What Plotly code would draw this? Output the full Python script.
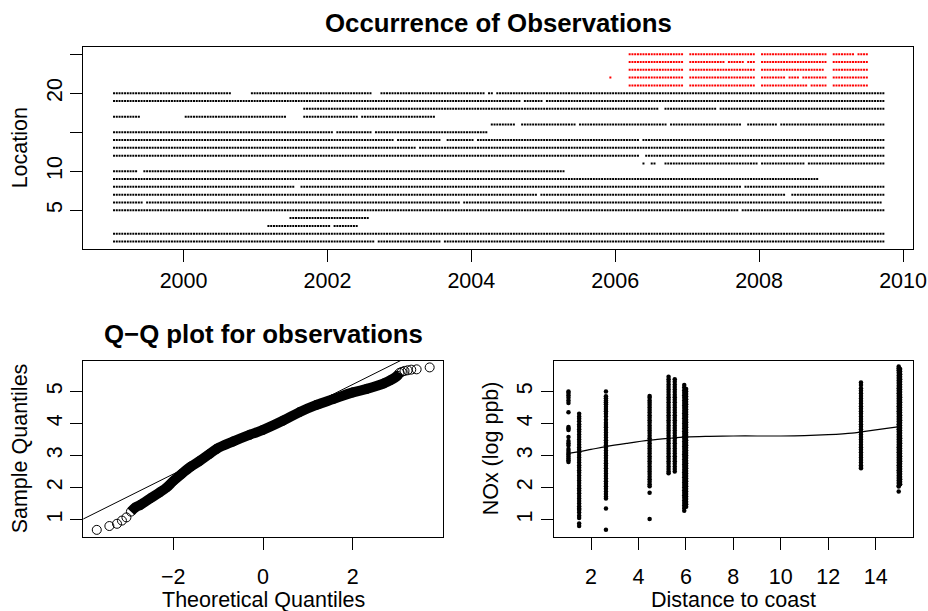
import pandas as pd
import plotly.graph_objects as go

FONT = "Liberation Sans"
W, H = 928, 611

# ---------------------------------------------------------------- data
# biweekly sampling schedule
sample_dates = pd.date_range("1999-01-13", periods=280, freq="14D")

# observed runs of the schedule (first index, last index) for each location
aqs_runs = {
    1: [(0, 94), (96, 118), (120, 279)],
    2: [(0, 279)],
    3: [(56, 78), (80, 88)],
    4: [(64, 92)],
    5: [(0, 226), (228, 279)],
    6: [(0, 10), (12, 125), (127, 278)],
    7: [(0, 153), (155, 243), (246, 279)],
    8: [(0, 65), (68, 227), (229, 279)],
    9: [(0, 255)],
    10: [(0, 8), (11, 163)],
    11: [(192, 192), (195, 196), (200, 233), (235, 250), (252, 279)],
    12: [(0, 190), (193, 279)],
    13: [(0, 109), (111, 279)],
    14: [(0, 101), (103, 118), (121, 130), (132, 190), (192, 279)],
    15: [(0, 79), (81, 93), (95, 135)],
    16: [(137, 145), (148, 167), (169, 200), (202, 227), (230, 240), (242, 279)],
    17: [(0, 9), (26, 62), (69, 88), (90, 116)],
    18: [(69, 197), (200, 218), (220, 279)],
    19: [(0, 147), (149, 155), (157, 279)],
    20: [(0, 42), (50, 93), (97, 134), (136, 137), (139, 279)],
}
fixed_runs = {
    21: [(187, 206), (209, 232), (235, 251), (253, 258), (261, 273)],
    22: [(180, 180), (187, 206), (209, 232), (235, 243), (245, 248), (250, 258), (261, 273)],
    23: [(187, 206), (209, 232), (235, 257), (261, 273)],
    24: [(187, 206), (209, 221), (223, 228), (230, 232), (235, 258), (261, 273)],
    25: [(187, 206), (209, 232), (235, 258), (261, 268), (270, 273)],
}
year_ticks = ["2000", "2002", "2004", "2006", "2008", "2010"]
location_ticks = [5, 10, 15, 20, 25]
location_labels = ["5", "10", "", "20", ""]

# Q-Q plot: theoretical vs sample quantiles of log NOx
qq_low_x = [-3.70, -3.42, -3.25, -3.14, -3.04, -2.94]
qq_low_y = [0.68, 0.80, 0.87, 0.97, 1.07, 1.25]
qq_mid_x = [-2.84, -2.73, -2.50, -2.30, -2.14, -2.00, -1.81, -1.60, -1.40, -1.20,
            -1.03, -0.66, -0.29, 0.00, 0.45, 0.82, 1.19, 1.56, 2.00, 2.31,
            2.69, 2.85, 2.99]
qq_mid_y = [1.38, 1.46, 1.67, 1.85, 2.01, 2.20, 2.43, 2.66, 2.84, 3.04,
            3.21, 3.44, 3.65, 3.80, 4.09, 4.36, 4.58, 4.76, 4.97, 5.08,
            5.25, 5.36, 5.49]
qq_high_x = [3.04, 3.09, 3.15, 3.22, 3.30, 3.42, 3.71]
qq_high_y = [5.58, 5.61, 5.64, 5.66, 5.68, 5.69, 5.75]
qq_line_intercept = 3.82
qq_line_slope = 0.70

# log NOx against distance to coast, one column per monitoring site
site_dist = [1.05, 1.50, 2.63, 4.47, 5.27, 5.53, 5.93, 6.01, 13.38, 14.97, 15.03]
site_nox = [
    [5.00, 4.95, 4.88, 4.80, 4.72, 4.64, 4.35, 3.89, 3.84, 3.80, 3.58, 3.45, 3.38,
     3.31, 3.20, 3.14, 3.08, 3.03, 2.97, 2.91, 2.85, 2.80],
    [4.30, 4.22, 4.15, 4.07, 3.98, 3.90, 3.82, 3.74, 3.66, 3.58, 3.50, 3.42, 3.34,
     3.26, 3.18, 3.10, 3.02, 2.94, 2.86, 2.78, 2.70, 2.62, 2.54, 2.46, 2.38, 2.30,
     2.22, 2.14, 2.06, 1.98, 1.90, 1.82, 1.74, 1.66, 1.58, 1.50, 1.42, 1.35, 1.30,
     1.22, 1.12, 1.05, 0.88, 0.80],
    [5.00, 4.85, 4.79, 4.72, 4.66, 4.60, 4.52, 4.45, 4.38, 4.30, 4.22, 4.12, 4.02,
     3.95, 3.88, 3.80, 3.72, 3.64, 3.56, 3.48, 3.40, 3.32, 3.24, 3.16, 3.08, 3.00,
     2.92, 2.84, 2.76, 2.68, 2.60, 2.52, 2.44, 2.36, 2.28, 2.20, 2.12, 2.04, 1.96,
     1.88, 1.80, 1.72, 1.66, 1.35, 0.68],
    [4.86, 4.80, 4.72, 4.65, 4.58, 4.50, 4.42, 4.34, 4.26, 4.18, 4.10, 4.02, 3.94,
     3.86, 3.78, 3.70, 3.62, 3.54, 3.46, 3.38, 3.30, 3.22, 3.14, 3.06, 2.98, 2.90,
     2.82, 2.74, 2.66, 2.58, 2.50, 2.42, 2.34, 2.26, 2.18, 2.10, 2.04, 1.84, 1.02],
    [5.46, 5.38, 5.30, 5.22, 5.14, 5.06, 4.98, 4.90, 4.82, 4.74, 4.66, 4.58, 4.50,
     4.42, 4.34, 4.26, 4.18, 4.10, 4.02, 3.94, 3.86, 3.78, 3.70, 3.62, 3.54, 3.46,
     3.38, 3.30, 3.22, 3.14, 3.06, 2.98, 2.90, 2.82, 2.74, 2.66, 2.58, 2.50, 2.45],
    [5.38, 5.30, 5.22, 5.14, 5.06, 4.98, 4.90, 4.82, 4.74, 4.66, 4.58, 4.50, 4.42,
     4.34, 4.26, 4.18, 4.10, 4.02, 3.94, 3.86, 3.78, 3.70, 3.62, 3.54, 3.46, 3.38,
     3.30, 3.22, 3.14, 3.06, 2.98, 2.90, 2.82, 2.74, 2.66, 2.58, 2.50],
    [5.20, 5.12, 5.04, 4.96, 4.88, 4.80, 4.72, 4.64, 4.56, 4.48, 4.40, 4.32, 4.24,
     4.16, 4.08, 4.00, 3.92, 3.84, 3.76, 3.68, 3.60, 3.52, 3.44, 3.36, 3.28, 3.20,
     3.12, 3.04, 2.96, 2.88, 2.80, 2.72, 2.64, 2.56, 2.48, 2.40, 2.32, 2.24, 2.16,
     2.08, 2.00, 1.92, 1.84, 1.76, 1.68, 1.60, 1.52, 1.44, 1.36, 1.28],
    [5.08, 5.00, 4.92, 4.84, 4.76, 4.68, 4.60, 4.52, 4.44, 4.36, 4.28, 4.20, 4.12,
     4.04, 3.96, 3.88, 3.80, 3.72, 3.64, 3.56, 3.48, 3.40, 3.32, 3.24, 3.16, 3.08,
     3.00, 2.92, 2.84, 2.76, 2.68, 2.60, 2.52, 2.44, 2.36, 2.28, 2.20, 2.12, 2.04,
     1.96, 1.88, 1.80, 1.72, 1.64, 1.56, 1.48, 1.40],
    [5.28, 5.20, 5.10, 5.02, 4.94, 4.86, 4.78, 4.70, 4.62, 4.54, 4.46, 4.38, 4.30,
     4.22, 4.14, 4.06, 3.98, 3.90, 3.82, 3.74, 3.66, 3.58, 3.50, 3.42, 3.34, 3.26,
     3.18, 3.10, 3.02, 2.94, 2.86, 2.78, 2.70, 2.64, 2.60],
    [5.78, 5.72, 5.66, 5.58, 5.50, 5.42, 5.34, 5.26, 5.18, 5.10, 5.02, 4.94, 4.86,
     4.78, 4.70, 4.62, 4.54, 4.46, 4.38, 4.30, 4.22, 4.14, 4.06, 3.98, 3.90, 3.82,
     3.74, 3.66, 3.58, 3.50, 3.42, 3.34, 3.26, 3.18, 3.10, 3.02, 2.94, 2.86, 2.78,
     2.70, 2.62, 2.54, 2.46, 2.38, 2.30, 2.22, 2.14, 2.06, 2.03, 1.88],
    [5.70, 5.62, 5.54, 5.46, 5.38, 5.30, 5.22, 5.14, 5.06, 4.98, 4.90, 4.82, 4.74,
     4.66, 4.58, 4.50, 4.42, 4.34, 4.26, 4.18, 4.10, 4.02, 3.94, 3.86, 3.78, 3.70,
     3.62, 3.54, 3.46, 3.38, 3.30, 3.22, 3.14, 3.06, 2.98, 2.90, 2.82, 2.74, 2.66,
     2.58, 2.50, 2.42, 2.34, 2.26, 2.18, 2.10],
]
trend_x = [1.05, 1.5, 2.0, 2.63, 3.5, 4.47, 5.3, 6.0, 7.0, 8.0, 9.0, 10.0, 11.0, 12.0, 13.0, 13.4, 14.0, 15.0]
trend_y = [3.07, 3.12, 3.19, 3.28, 3.38, 3.48, 3.54, 3.58, 3.60, 3.61, 3.61, 3.61, 3.62, 3.65, 3.70, 3.74, 3.80, 3.90]


# ---------------------------------------------------------------- helpers
def expand(runs):
    xs, ys = [], []
    for loc, spans in runs.items():
        for a, b in spans:
            for i in range(a, b + 1):
                xs.append(sample_dates[i])
                ys.append(loc)
    return xs, ys


def px_x(p):
    return p / W


def px_y(p):
    return 1 - p / H


def axis(**kw):
    base = dict(showline=True, mirror=True, linecolor="black", linewidth=1,
                ticks="outside", ticklen=12, tickwidth=1, tickcolor="black",
                showgrid=False, zeroline=False, automargin=False,
                tickfont=dict(family=FONT, size=21.5, color="black"))
    base.update(kw)
    return base


fig = go.Figure()

# occurrence of observations
ax_, ay_ = expand(aqs_runs)
fx_, fy_ = expand(fixed_runs)
fig.add_trace(go.Scatter(x=ax_, y=ay_, mode="markers", xaxis="x", yaxis="y",
                         marker=dict(symbol="square", size=2, color="black", line=dict(width=0))))
fig.add_trace(go.Scatter(x=fx_, y=fy_, mode="markers", xaxis="x", yaxis="y",
                         marker=dict(symbol="square", size=2, color="red", line=dict(width=0))))

# Q-Q plot
qq_x = qq_low_x + qq_mid_x + qq_high_x
qq_y = qq_low_y + qq_mid_y + qq_high_y
fig.add_trace(go.Scatter(x=[qq_low_x[-1]] + qq_mid_x + [qq_high_x[0]],
                         y=[qq_low_y[-1]] + qq_mid_y + [qq_high_y[0]],
                         mode="lines", xaxis="x2", yaxis="y2",
                         line=dict(color="black", width=10, shape="spline")))
fig.add_trace(go.Scatter(x=qq_x, y=qq_y, mode="markers", xaxis="x2", yaxis="y2",
                         marker=dict(symbol="circle-open", size=9, color="black",
                                     line=dict(width=1, color="black"))))
line_x = [-4.5, 4.5]
fig.add_trace(go.Scatter(x=line_x, y=[qq_line_intercept + qq_line_slope * v for v in line_x],
                         mode="lines", xaxis="x2", yaxis="y2",
                         line=dict(color="black", width=1)))

# NOx vs distance to coast
for d, vals in zip(site_dist, site_nox):
    fig.add_trace(go.Scatter(x=[d] * len(vals), y=vals, mode="markers", xaxis="x3", yaxis="y3",
                             marker=dict(size=4.5, color="black", line=dict(width=0))))
fig.add_trace(go.Scatter(x=trend_x, y=trend_y, mode="lines", xaxis="x3", yaxis="y3",
                         line=dict(color="black", width=1.2, shape="spline")))

top_l, top_r, top_t, top_b = 83.3, 912.7, 46.7, 249.0
bot_t, bot_b = 361.0, 536.7
ql_l, ql_r = 83.3, 442.7
qr_l, qr_r = 554.0, 912.7

fig.update_layout(
    width=W, height=H, autosize=False, margin=dict(l=0, r=0, t=0, b=0, pad=0),
    paper_bgcolor="white", plot_bgcolor="white", showlegend=False,
    font=dict(family=FONT, color="black"),
    xaxis=axis(domain=[px_x(top_l), px_x(top_r)], anchor="y", type="date",
               range=["1998-08-10", "2010-02-19"],
               tickvals=[f"{y}-01-01" for y in year_ticks], ticktext=year_ticks),
    yaxis=axis(domain=[px_y(top_b), px_y(top_t)], anchor="x", range=[0.04, 25.96],
               tickvals=location_ticks, ticktext=location_labels, tickangle=-90),
    xaxis2=axis(domain=[px_x(ql_l), px_x(ql_r)], anchor="y2", range=[-4.0, 4.0],
                tickvals=[-2, 0, 2], ticklabelstandoff=8),
    yaxis2=axis(domain=[px_y(bot_b), px_y(bot_t)], anchor="x2", range=[0.467, 5.95],
                tickvals=[1, 2, 3, 4, 5], tickangle=-90),
    xaxis3=axis(domain=[px_x(qr_l), px_x(qr_r)], anchor="y3", range=[0.44, 15.56],
                tickvals=[2, 4, 6, 8, 10, 12, 14], ticklabelstandoff=8),
    yaxis3=axis(domain=[px_y(bot_b), px_y(bot_t)], anchor="x3", range=[0.467, 5.95],
                tickvals=[1, 2, 3, 4, 5], tickangle=-90),
)

lab = dict(family=FONT, size=21.5, color="black")
ttl = dict(family=FONT, size=25.8, color="black")
notes = [
    dict(text="<b>Occurrence of Observations</b>", x=px_x((top_l + top_r) / 2), y=px_y(22.6), font=ttl),
    dict(text="<b>Q\u2212Q plot for observations</b>", x=px_x((ql_l + ql_r) / 2), y=px_y(333.6), font=ttl),
    dict(text="Location", x=px_x(19.5), y=px_y((top_t + top_b) / 2), font=lab, textangle=-90),
    dict(text="Sample Quantiles", x=px_x(19.5), y=px_y((bot_t + bot_b) / 2), font=lab, textangle=-90),
    dict(text="NOx (log ppb)", x=px_x(490.5), y=px_y((bot_t + bot_b) / 2), font=lab, textangle=-90),
    dict(text="Theoretical Quantiles", x=px_x((ql_l + ql_r) / 2), y=px_y(599.5), font=lab),
    dict(text="Distance to coast", x=px_x((qr_l + qr_r) / 2), y=px_y(599.5), font=lab),
]
for n in notes:
    fig.add_annotation(xref="paper", yref="paper", showarrow=False,
                       xanchor="center", yanchor="middle", **n)

# keep the page exactly the size of the figure (no body margin, no scrollbars)
page_fit = ("document.documentElement.style.overflow='hidden';"
            "document.body.style.margin='0';document.body.style.overflow='hidden';")

fig.write_html("out.html", config={"responsive": False}, post_script=page_fit)
